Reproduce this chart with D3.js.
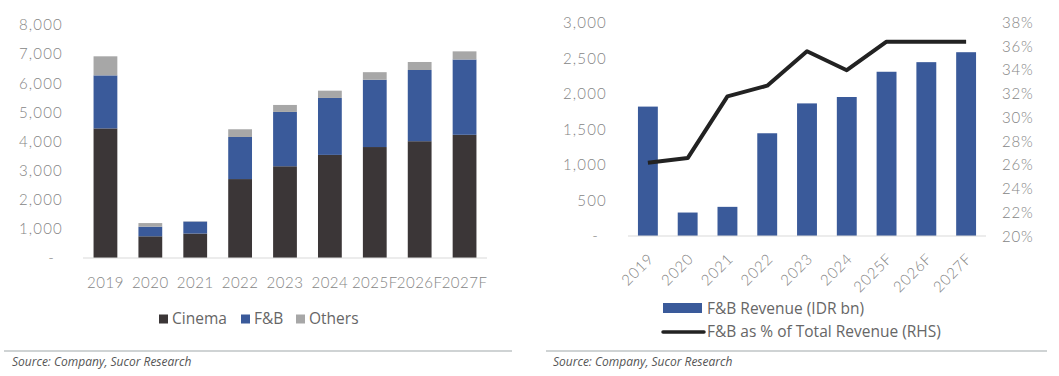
<!DOCTYPE html>
<html>
<head>
<meta charset="utf-8">
<script src="https://cdn.jsdelivr.net/npm/d3@7"></script>
<style>
  html, body { margin: 0; padding: 0; background: #fff; }
  svg { display: block; }
  text { font-family: Lato, "Open Sans", sans-serif; }
  .ax { font-weight: 300; }
  .leg { font-family: "Open Sans", Lato, sans-serif; }
</style>
</head>
<body>
<svg id="chart" width="1059" height="376"></svg>
<script>
// ---------- Data ----------
const years = ["2019", "2020", "2021", "2022", "2023", "2024", "2025F", "2026F", "2027F"];
const cinema = [4450, 745, 840, 2710, 3150, 3540, 3810, 4010, 4230];
const fnb = [1820, 330, 410, 1445, 1865, 1955, 2310, 2445, 2585];
const others = [655, 125, 10, 265, 240, 250, 260, 275, 280];
const fnbShare = [26.2, 26.6, 31.8, 32.7, 35.6, 34.0, 36.4, 36.4, 36.4];
const leftTicks = [0, 1000, 2000, 3000, 4000, 5000, 6000, 7000, 8000];
const rightTicksL = [0, 500, 1000, 1500, 2000, 2500, 3000];
const rightTicksR = [20, 22, 24, 26, 28, 30, 32, 34, 36, 38];
const seriesNames = ["Cinema", "F&B", "Others"];
const sourceText = "Source: Company, Sucor Research";

const colors = { Cinema: "#3b3637", "F&B": "#3a5a9a", Others: "#a7a7a7" };
const axisTextColor = "#858585";
const fmt = d => d === 0 ? "-" : d3.format(",")(d);

const svg = d3.select("#chart");

// ---------- Left chart: stacked bars ----------
const L = svg.append("g");
const xL = d3.scaleBand().domain(years).range([83, 487]).paddingInner(0.47).paddingOuter(0.235);
const yL = d3.scaleLinear().domain([0, 8000]).range([258, 25]);

const rows = years.map((y, i) => ({ year: y, Cinema: cinema[i], "F&B": fnb[i], Others: others[i] }));
const stacked = d3.stack().keys(seriesNames)(rows);

L.selectAll("g.series").data(stacked).join("g")
  .attr("fill", d => colors[d.key])
  .selectAll("rect").data(d => d).join("rect")
  .attr("x", d => xL(d.data.year))
  .attr("width", xL.bandwidth())
  .attr("y", d => yL(d[1]))
  .attr("height", d => yL(d[0]) - yL(d[1]));

L.append("line").attr("x1", 83).attr("x2", 487).attr("y1", yL(0)).attr("y2", yL(0))
  .attr("stroke", "#d9d9d9").attr("stroke-width", 1);

L.selectAll("text.yl").data(leftTicks).join("text")
  .attr("class", "yl ax")
  .attr("x", d => d === 0 ? 55 : 63)
  .attr("y", d => yL(d))
  .attr("dy", "0.35em")
  .attr("text-anchor", "end")
  .attr("fill", axisTextColor)
  .attr("font-size", 15)
  .attr("letter-spacing", 1.2)
  .text(fmt);

L.selectAll("text.xl").data(years).join("text")
  .attr("class", "xl ax")
  .attr("x", d => xL(d) + xL.bandwidth() / 2)
  .attr("y", 283)
  .attr("dy", "0.35em")
  .attr("text-anchor", "middle")
  .attr("fill", axisTextColor)
  .attr("font-size", 15)
  .attr("letter-spacing", 0.5)
  .text(d => d);

const legX = [159, 241, 296];
seriesNames.forEach((n, i) => {
  L.append("rect").attr("x", legX[i]).attr("y", 314.5).attr("width", 9).attr("height", 9).attr("fill", colors[n]);
  L.append("text").attr("class", "leg").attr("x", legX[i] + 13).attr("y", 319).attr("dy", "0.35em")
    .attr("fill", "#666").attr("font-size", 15.5).text(n);
});

L.append("line").attr("x1", 4).attr("x2", 512).attr("y1", 351).attr("y2", 351)
  .attr("stroke", "#9fa7aa").attr("stroke-width", 1.2);
L.append("text").attr("class", "leg").attr("x", 12).attr("y", 362).attr("dy", "0.35em")
  .attr("font-style", "italic").attr("fill", "#555").attr("font-size", 12).text(sourceText);

// ---------- Right chart: bars + line ----------
const R = svg.append("g");
const xR = d3.scaleBand().domain(years).range([628, 986]).paddingInner(0.5).paddingOuter(0.25);
const yR = d3.scaleLinear().domain([0, 3000]).range([236, 22.7]);
const yP = d3.scaleLinear().domain([20, 38]).range([236.5, 22.7]);

R.selectAll("rect.bar").data(years).join("rect")
  .attr("class", "bar")
  .attr("x", d => xR(d))
  .attr("width", xR.bandwidth())
  .attr("y", (d, i) => yR(fnb[i]))
  .attr("height", (d, i) => yR(0) - yR(fnb[i]))
  .attr("fill", colors["F&B"]);

R.append("line").attr("x1", 628).attr("x2", 986).attr("y1", yR(0)).attr("y2", yR(0))
  .attr("stroke", "#d9d9d9").attr("stroke-width", 1);

const line = d3.line().x((d, i) => xR(years[i]) + xR.bandwidth() / 2).y(d => yP(d));
R.append("path").datum(fnbShare).attr("d", line)
  .attr("fill", "none").attr("stroke", "#222").attr("stroke-width", 4)
  .attr("stroke-linejoin", "round");

R.selectAll("text.yl").data(rightTicksL).join("text")
  .attr("class", "yl ax")
  .attr("x", d => d === 0 ? 599 : 607)
  .attr("y", d => yR(d))
  .attr("dy", "0.35em")
  .attr("text-anchor", "end")
  .attr("fill", axisTextColor)
  .attr("font-size", 15)
  .attr("letter-spacing", 1.2)
  .text(fmt);

R.selectAll("text.yr").data(rightTicksR).join("text")
  .attr("class", "yr ax")
  .attr("x", 1002)
  .attr("y", d => yP(d))
  .attr("dy", "0.35em")
  .attr("text-anchor", "start")
  .attr("fill", axisTextColor)
  .attr("font-size", 15)
  .attr("letter-spacing", 0.8)
  .text(d => d + "%");

R.selectAll("text.xl").data(years).join("text")
  .attr("class", "xl ax")
  .attr("text-anchor", "end")
  .attr("fill", axisTextColor)
  .attr("font-size", 15)
  .attr("letter-spacing", 0.8)
  .attr("transform", d => `translate(${xR(d) + xR.bandwidth() / 2 + 3},${256}) rotate(-45)`)
  .attr("dy", "0.35em")
  .text(d => d);

R.append("rect").attr("x", 663).attr("y", 303).attr("width", 39).attr("height", 10).attr("fill", colors["F&B"]);
R.append("text").attr("class", "leg").attr("x", 707).attr("y", 309).attr("dy", "0.35em")
  .attr("fill", "#666").attr("font-size", 15.5).text("F&B Revenue (IDR bn)");
R.append("line").attr("x1", 663).attr("x2", 704).attr("y1", 332).attr("y2", 332)
  .attr("stroke", "#222").attr("stroke-width", 3.5).attr("stroke-linecap", "round");
R.append("text").attr("class", "leg").attr("x", 707).attr("y", 332).attr("dy", "0.35em")
  .attr("fill", "#666").attr("font-size", 15.5).text("F&B as % of Total Revenue (RHS)");

R.append("line").attr("x1", 546).attr("x2", 1047).attr("y1", 351).attr("y2", 351)
  .attr("stroke", "#9fa7aa").attr("stroke-width", 1.2);
R.append("text").attr("class", "leg").attr("x", 553).attr("y", 362).attr("dy", "0.35em")
  .attr("font-style", "italic").attr("fill", "#555").attr("font-size", 12).text(sourceText);
</script>
</body>
</html>
